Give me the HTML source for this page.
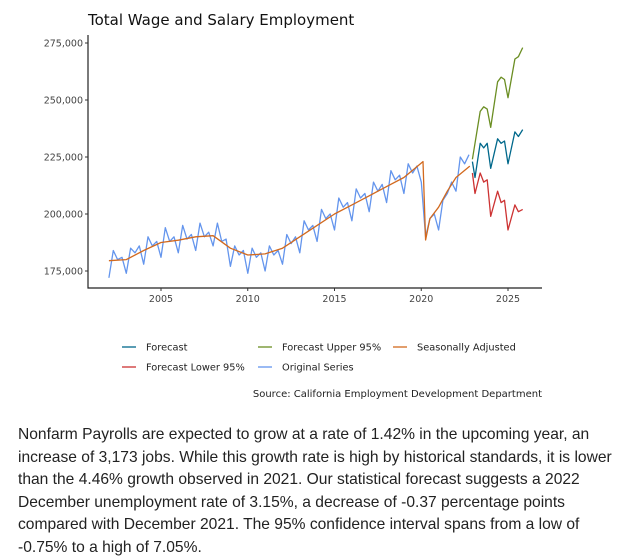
<!DOCTYPE html>
<html><head><meta charset="utf-8"><style>
body{margin:0;width:640px;height:560px;background:#fff;font-family:"Liberation Sans",sans-serif;overflow:hidden}
#para{position:absolute;left:18px;top:424px;width:610px;font-size:15.6px;line-height:22.5px;color:#222}
</style></head><body>
<svg id="chart" width="640" height="410" style="position:absolute;left:0;top:0" font-family="DejaVu Sans, sans-serif"></svg>
<div id="para">Nonfarm Payrolls are expected to grow at a rate of 1.42% in the upcoming year, an increase of 3,173 jobs. While this growth rate is high by historical standards, it is lower than the 4.46% growth observed in 2021. Our statistical forecast suggests a 2022 December unemployment rate of 3.15%, a decrease of -0.37 percentage points compared with December 2021. The 95% confidence interval spans from a low of -0.75% to a high of 7.05%.</div>
<script>
const yTicks=[175000,200000,225000,250000,275000];
const xTicks=[2005,2010,2015,2020,2025];
const origVals=[172,184,180,181,174,185,183,186,178,190,186,188,181,194,188,190,183,195,189,191,184,196,190,192,186,196,188,189,177,186,182,184,174,185,181,183,175,186,182,184,178,191,187,190,183,197,193,195,188,202,198,200,193,207,203,205,197,211,207,209,201,214,210,213,205,219,215,217,209,222,218,221,214,190,198,200,193,206,209,214,210,225,222,226];
const saYears=[2002,2003,2004,2005,2006,2007,2008,2009,2010,2011,2012,2013,2014,2015,2016,2017,2018,2019,2020.1,2020.25,2020.5,2021,2021.5,2022,2022.8];
const saVals=[179.5,180,184,187.5,188.5,190,190.5,185,182,182.5,185,190,195,200,204,208,212,216,223,188.6,198,203,210,216,221];
const fcYears=[2022.95,2023.1,2023.4,2023.6,2023.8,2024,2024.4,2024.6,2024.8,2025,2025.4,2025.6,2025.85];
const fcVals=[223,216,231,229,231,220,233,231,232,222,236,234,237];
const upYears=[2022.95,2023.4,2023.6,2023.8,2024,2024.4,2024.6,2024.8,2025,2025.4,2025.6,2025.85];
const upVals=[224,245,247,246,238,258,260,259,251,268,269,273];
const loYears=[2022.95,2023.1,2023.4,2023.6,2023.8,2024,2024.4,2024.6,2024.8,2025,2025.4,2025.6,2025.85];
const loVals=[218,209,218,214,215,199,210,205,206,193,204,201,202];
const svg=document.getElementById('chart');
const NS='http://www.w3.org/2000/svg';
const X=y=>161+(y-2005)*17.35;
const Y=v=>271-(v-175000)/25000*57;
function el(t,a){const e=document.createElementNS(NS,t);for(const k in a)e.setAttribute(k,a[k]);svg.appendChild(e);return e;}
function txt(s,a){const e=el('text',a);e.textContent=s;return e;}
let t=txt('Total Wage and Salary Employment',{x:88,y:25,'font-size':15,fill:'#111'});


let ax=el('path',{d:'M88,35V288H542',stroke:'#222',fill:'none','stroke-width':1.2});


yTicks.forEach(v=>{el('line',{x1:85,x2:88,y1:Y(v),y2:Y(v),stroke:'#333'});
 let l=txt(v.toLocaleString('en-US'),{x:83,y:Y(v)+3.5,'font-size':9.5,'text-anchor':'end',fill:'#444'});
 
 });
xTicks.forEach(v=>{el('line',{x1:X(v),x2:X(v),y1:288,y2:291,stroke:'#333'});
 let l=txt(String(v),{x:X(v),y:302,'font-size':9.5,'text-anchor':'middle',fill:'#444'});
 
 });
function line(xs,vs,c,name){let d=xs.map((x,i)=>(i?'L':'M')+X(x).toFixed(1)+','+Y(vs[i]*1000).toFixed(1)).join('');
 let p=el('path',{d,stroke:c,fill:'none','stroke-width':1.3,'stroke-linejoin':'round'});
 
 }
const origYears=origVals.map((_,i)=>2002+i*0.25);
line(origYears,origVals,'#6495ed','original-series-line');
line(saYears,saVals,'#d2691e','seasonally-adjusted-line');
line(upYears,upVals,'#6b8e23','forecast-upper-line');
line(loYears,loVals,'#cd3333','forecast-lower-line');
line(fcYears,fcVals,'#00688b','forecast-line');
const leg=[['Forecast','#00688b',122,347],['Forecast Upper 95%','#6b8e23',258,347],['Seasonally Adjusted','#d2691e',393,347],['Forecast Lower 95%','#cd3333',122,367],['Original Series','#6495ed',258,367]];
leg.forEach(g=>{el('line',{x1:g[2],x2:g[2]+14,y1:g[3],y2:g[3],stroke:g[1],'stroke-width':1.3});
 let l=txt(g[0],{x:g[2]+24,y:g[3]+3.5,'font-size':9.8,fill:'#222'});
 
 });
let s=txt('Source: California Employment Development Department',{x:542,y:397,'font-size':10,'text-anchor':'end',fill:'#222'});


</script>
</body></html>
